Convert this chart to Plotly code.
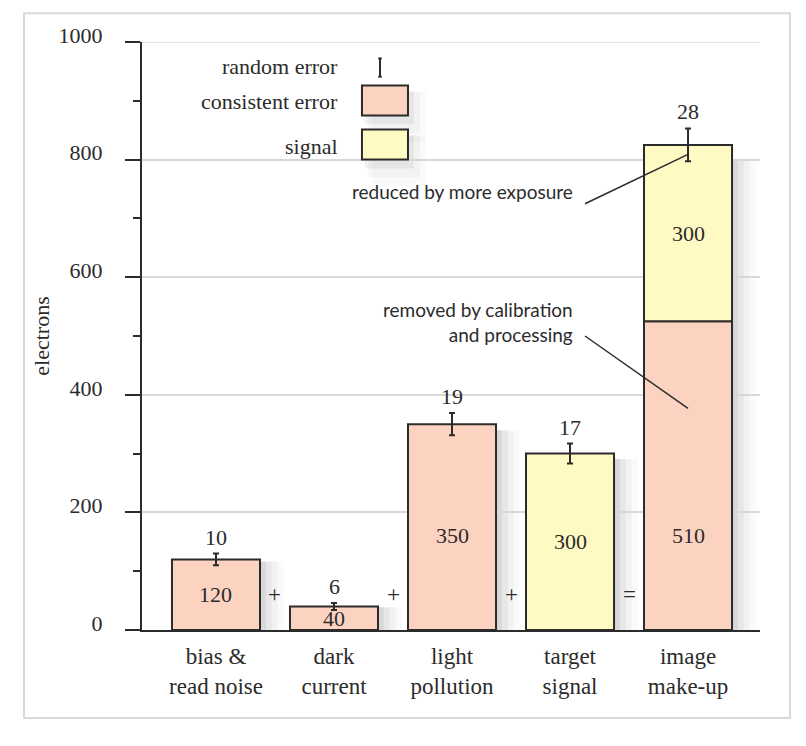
import plotly.graph_objects as go

# Data
categories = ["bias &<br>read noise", "dark<br>current", "light<br>pollution",
              "target<br>signal", "image<br>make-up"]
consistent = [120, 40, 350, 0, 525]
signal = [0, 0, 0, 300, 300]
errors = [10, 6, 19, 17, 28]
consistent_labels = ["120", "40", "350", "", "510"]
signal_labels = ["", "", "", "300", "300"]
operators = ["+", "+", "+", "="]
y_ticks = [0, 200, 400, 600, 800, 1000]

PINK = "#fcd3c1"
YELLOW = "#fffac3"
INK = "#2b2b2b"
SERIF = "Liberation Serif"
SANS = "Lato"

tops = [c + s for c, s in zip(consistent, signal)]
half = 0.373  # half bar width in category units

fig = go.Figure()
fig.add_trace(go.Bar(
    x=categories, y=[c or None for c in consistent],
    marker=dict(color=PINK, line=dict(color=INK, width=2)),
    hoverinfo="skip",
))
fig.add_trace(go.Bar(
    x=categories, y=[s or None for s in signal],
    base=consistent,
    marker=dict(color=YELLOW, line=dict(color=INK, width=2)),
    hoverinfo="skip",
))
fig.add_trace(go.Scatter(
    x=categories, y=tops, mode="markers",
    marker=dict(size=1, opacity=0),
    error_y=dict(type="data", array=errors, color=INK, thickness=2, width=3),
    hoverinfo="skip",
))

shapes = []
annotations = []

# soft shadows to the right of each bar
for i, t in enumerate(tops):
    for k, a in enumerate([0.06, 0.045, 0.03, 0.02]):
        shapes.append(dict(
            type="rect", layer="below", xref="x", yref="y",
            x0=i + half, x1=i + half + 0.05 * (k + 1),
            y0=0, y1=t * 0.97,
            fillcolor="rgba(0,0,0,%s)" % a, line=dict(width=0),
        ))

# numbers inside bars and above error bars
for i in range(len(categories)):
    if consistent_labels[i]:
        annotations.append(dict(
            x=i, y=min(consistent[i] / 2, 160), xref="x", yref="y",
            text=consistent_labels[i], showarrow=False,
            font=dict(family=SERIF, size=22, color=INK),
        ))
    if signal_labels[i]:
        base = consistent[i]
        annotations.append(dict(
            x=i, y=base + min(signal[i] / 2, 160), xref="x", yref="y",
            text=signal_labels[i], showarrow=False,
            font=dict(family=SERIF, size=22, color=INK),
        ))
    annotations.append(dict(
        x=i, y=tops[i] + errors[i], xref="x", yref="y", yanchor="bottom",
        yshift=2, text=str(errors[i]), showarrow=False,
        font=dict(family=SERIF, size=22, color=INK),
    ))

# + and = between bars
for i, op in enumerate(operators):
    annotations.append(dict(
        x=i + 0.5, y=60, xref="x", yref="y", text=op, showarrow=False,
        font=dict(family=SERIF, size=23, color=INK),
    ))

# legend drawn by hand
legend_items = [("random error", 958), ("consistent error", 899), ("signal", 822)]
for name, ly in legend_items:
    annotations.append(dict(
        x=1.05, y=ly, xref="x", yref="y", xanchor="right", text=name,
        showarrow=False, font=dict(family=SERIF, size=22, color=INK),
    ))
for fill, y0, y1 in [(PINK, 875, 926), (YELLOW, 800, 851)]:
    for k, a in enumerate([0.05, 0.03, 0.02]):
        shapes.append(dict(
            type="rect", xref="x", yref="y",
            x0=1.26 + 0.03 * k, x1=1.627 + 0.05 * (k + 1),
            y0=y0 - 15 * (k + 1), y1=y1 - 10,
            fillcolor="rgba(0,0,0,%s)" % a, line=dict(width=0), layer="below",
        ))
    shapes.append(dict(
        type="rect", xref="x", yref="y", x0=1.237, x1=1.627, y0=y0, y1=y1,
        fillcolor=fill, line=dict(color=INK, width=2),
    ))
shapes += [
    dict(type="line", xref="x", yref="y", x0=1.39, x1=1.39, y0=941, y1=972,
         line=dict(color=INK, width=2)),
    dict(type="line", xref="x", yref="y", x0=1.375, x1=1.405, y0=972, y1=972,
         line=dict(color=INK, width=2)),
    dict(type="line", xref="x", yref="y", x0=1.375, x1=1.405, y0=941, y1=941,
         line=dict(color=INK, width=2)),
]

# call-outs
annotations += [
    dict(x=3.04, y=746, xref="x", yref="y", xanchor="right",
         text="reduced by more exposure", showarrow=False,
         font=dict(family=SANS, size=19, color=INK)),
    dict(x=3.04, y=524, xref="x", yref="y", xanchor="right", align="right",
         text="removed by calibration<br>and processing", showarrow=False,
         font=dict(family=SANS, size=19, color=INK)),
]
shapes += [
    dict(type="line", xref="x", yref="y", x0=3.127, y0=725, x1=4.0, y1=809,
         line=dict(color=INK, width=1.5)),
    dict(type="line", xref="x", yref="y", x0=3.127, y0=500, x1=4.0, y1=377,
         line=dict(color=INK, width=1.5)),
]

# gridline at the top of the range
shapes.append(dict(
    type="line", xref="paper", yref="y", x0=0, x1=1, y0=1000, y1=1000,
    line=dict(color="#d8d8d8", width=1.5), layer="below",
))

# outer frame
shapes.append(dict(
    type="rect", xref="paper", yref="paper", x0=-0.191, x1=1.0485,
    y0=-0.1497, y1=1.049, line=dict(color="#d9d9d9", width=2), layer="below",
))

fig.update_layout(
    barmode="overlay",
    bargap=0.254,
    showlegend=False,
    width=806, height=746,
    margin=dict(l=134, r=54, t=34, b=124),
    paper_bgcolor="white", plot_bgcolor="white",
    shapes=shapes, annotations=annotations,
    font=dict(family=SERIF, color=INK),
)
fig.update_xaxes(
    range=[-0.627, 4.61],
    showline=True, linecolor=INK, linewidth=2,
    ticks="", showgrid=False,
    tickfont=dict(family=SERIF, size=23, color=INK),
    ticklabelstandoff=4,
)
fig.update_yaxes(
    range=[0, 1000], tickvals=y_ticks,
    showline=True, linecolor=INK, linewidth=2,
    ticks="outside", ticklen=15, tickwidth=2, tickcolor=INK,
    minor=dict(dtick=100, ticks="outside", ticklen=7, tickwidth=2,
               tickcolor=INK, showgrid=False),
    showgrid=True, gridcolor="#d8d8d8", gridwidth=1.5,
    zeroline=False,
    tickfont=dict(family=SERIF, size=22, color=INK),
    ticklabelstandoff=18, ticklabelshift=-7,
    title=dict(text="electrons", font=dict(family=SERIF, size=22, color=INK),
               standoff=3),
)

fig.write_html("out.html")
